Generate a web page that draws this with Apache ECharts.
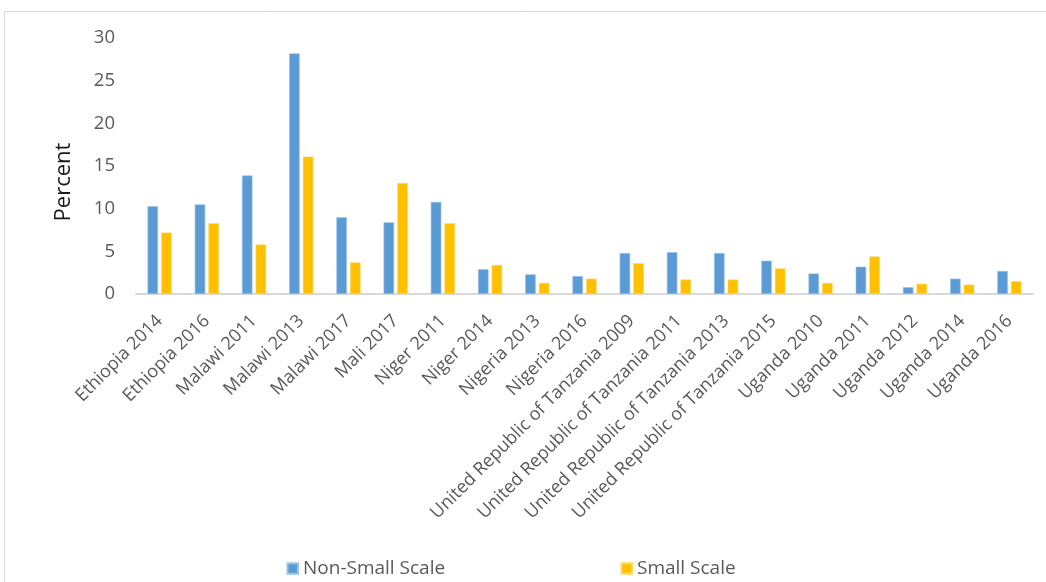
<!DOCTYPE html>
<html>
<head>
<meta charset="utf-8">
<script src="https://cdn.jsdelivr.net/npm/echarts@6/dist/echarts.min.js"></script>
<style>
  html, body { margin: 0; padding: 0; background: #fff; }
  #chart { width: 1046px; height: 582px; }
</style>
</head>
<body>
<div id="chart"></div>
<script>
// Survey rounds shown along the x axis
const categories = [
  'Ethiopia 2014', 'Ethiopia 2016', 'Malawi 2011', 'Malawi 2013', 'Malawi 2017',
  'Mali 2017', 'Niger 2011', 'Niger 2014', 'Nigeria 2013', 'Nigeria 2016',
  'United Republic of Tanzania 2009', 'United Republic of Tanzania 2011',
  'United Republic of Tanzania 2013', 'United Republic of Tanzania 2015',
  'Uganda 2010', 'Uganda 2011', 'Uganda 2012', 'Uganda 2014', 'Uganda 2016'
];

// Percent values per survey round
const nonSmallScale = [10.3, 10.5, 13.9, 28.2, 9.0, 8.4, 10.8, 2.9, 2.3, 2.1, 4.8, 4.9, 4.8, 3.9, 2.4, 3.2, 0.8, 1.8, 2.7];
const smallScale    = [7.2, 8.3, 5.8, 16.1, 3.7, 13.0, 8.3, 3.4, 1.3, 1.8, 3.6, 1.7, 1.7, 3.0, 1.3, 4.4, 1.2, 1.1, 1.5];

const seriesNames = ['Non-Small Scale', 'Small Scale'];
const yTicks = { min: 0, max: 30, interval: 5 };

const FONT = '"Open Sans", sans-serif';
const BLUE = '#5b9bd5';
const GOLD = '#ffc000';

const chart = echarts.init(document.getElementById('chart'), null, { renderer: 'canvas' });

const legendBase = {
  top: 559,
  padding: 0,
  itemWidth: 10.5, itemHeight: 10.5, itemGap: 5,
  icon: 'rect',
  textStyle: { fontFamily: FONT, fontSize: 19, color: '#595959' }
};

chart.setOption({
  animation: false,
  backgroundColor: '#ffffff',
  textStyle: { fontFamily: FONT },
  grid: { left: 136, right: 13, top: 38, bottom: 288, containLabel: false },
  legend: [
    Object.assign({ data: [seriesNames[0]], left: 286.5 }, legendBase),
    Object.assign({ data: [seriesNames[1]], left: 620.5 }, legendBase)
  ],
  xAxis: {
    type: 'category',
    data: categories,
    axisLine: { show: true, lineStyle: { color: '#d9d9d9', width: 2 } },
    axisTick: { show: false },
    axisLabel: {
      interval: 0,
      rotate: 45,
      margin: 24,
      fontFamily: FONT,
      fontSize: 18,
      color: '#595959'
    }
  },
  yAxis: {
    type: 'value',
    min: yTicks.min,
    max: yTicks.max,
    interval: yTicks.interval,
    axisLine: { show: false },
    axisTick: { show: false },
    splitLine: { show: false },
    axisLabel: { margin: 21, fontFamily: FONT, fontSize: 18.5, color: '#595959' }
  },
  series: [
    {
      name: seriesNames[0],
      type: 'bar',
      data: nonSmallScale,
      barWidth: 10.5,
      barGap: '30%',
      itemStyle: { color: BLUE, borderColor: '#9dc3e6', borderWidth: 0.6 }
    },
    {
      name: seriesNames[1],
      type: 'bar',
      data: smallScale,
      barWidth: 10.5,
      barGap: '30%',
      itemStyle: { color: GOLD, borderColor: '#ffd966', borderWidth: 0.6 }
    }
  ],
  graphic: [
    {
      type: 'rect',
      silent: true,
      shape: { x: 4.5, y: 11.5, width: 1100, height: 700 },
      style: { fill: 'none', stroke: '#d9d9d9', lineWidth: 1 }
    },
    {
      type: 'text',
      silent: true,
      x: 64, y: 182,
      rotation: Math.PI / 2,
      style: {
        text: 'Percent',
        fontFamily: FONT,
        fontSize: 22,
        fill: '#1a1a1a',
        align: 'center',
        verticalAlign: 'middle'
      }
    }
  ]
});
</script>
</body>
</html>
